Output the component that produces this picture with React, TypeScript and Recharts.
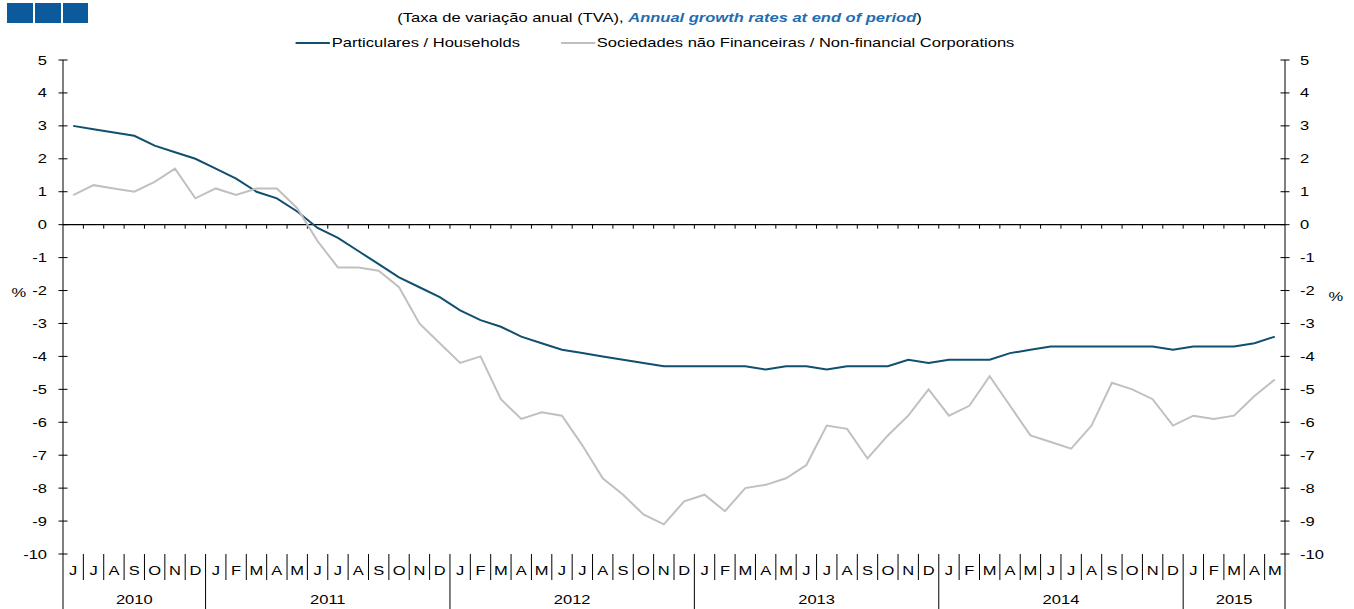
import React from "react";
import { ComposedChart, Line, XAxis, YAxis, ReferenceLine } from "recharts";

// Jun 2010 .. May 2015
const monthLetters = [
  "J", "J", "A", "S", "O", "N", "D",
  "J", "F", "M", "A", "M", "J", "J", "A", "S", "O", "N", "D",
  "J", "F", "M", "A", "M", "J", "J", "A", "S", "O", "N", "D",
  "J", "F", "M", "A", "M", "J", "J", "A", "S", "O", "N", "D",
  "J", "F", "M", "A", "M", "J", "J", "A", "S", "O", "N", "D",
  "J", "F", "M", "A", "M",
];
const yearCounts: [string, number][] = [
  ["2010", 7], ["2011", 12], ["2012", 12], ["2013", 12], ["2014", 12], ["2015", 5],
];
const households = [
  3.0, 2.9, 2.8, 2.7, 2.4, 2.2, 2.0,
  1.7, 1.4, 1.0, 0.8, 0.4, -0.1, -0.4, -0.8, -1.2, -1.6, -1.9, -2.2,
  -2.6, -2.9, -3.1, -3.4, -3.6, -3.8, -3.9, -4.0, -4.1, -4.2, -4.3, -4.3,
  -4.3, -4.3, -4.3, -4.4, -4.3, -4.3, -4.4, -4.3, -4.3, -4.3, -4.1, -4.2,
  -4.1, -4.1, -4.1, -3.9, -3.8, -3.7, -3.7, -3.7, -3.7, -3.7, -3.7, -3.8,
  -3.7, -3.7, -3.7, -3.6, -3.4,
];
const corporations = [
  0.9, 1.2, 1.1, 1.0, 1.3, 1.7, 0.8,
  1.1, 0.9, 1.1, 1.1, 0.5, -0.5, -1.3, -1.3, -1.4, -1.9, -3.0, -3.6,
  -4.2, -4.0, -5.3, -5.9, -5.7, -5.8, -6.7, -7.7, -8.2, -8.8, -9.1, -8.4,
  -8.2, -8.7, -8.0, -7.9, -7.7, -7.3, -6.1, -6.2, -7.1, -6.4, -5.8, -5.0,
  -5.8, -5.5, -4.6, -5.5, -6.4, -6.6, -6.8, -6.1, -4.8, -5.0, -5.3, -6.1,
  -5.8, -5.9, -5.8, -5.2, -4.7,
];
const yTicks = [-10, -9, -8, -7, -6, -5, -4, -3, -2, -1, 0, 1, 2, 3, 4, 5];

const years: string[] = yearCounts.flatMap(([y, n]) => Array(n).fill(y));
const data = monthLetters.map((m, i) => ({
  key: `${years[i]}-${i}`,
  month: m,
  year: years[i],
  households: households[i],
  corporations: corporations[i],
}));
const keys = data.map((d) => d.key);

const W = 1354;
const H = 609;
const PLOT_LEFT = 63;
const PLOT_RIGHT = 1285;
const PLOT_TOP = 60;
const PLOT_BOTTOM = 554;
const BW = (PLOT_RIGHT - PLOT_LEFT) / data.length;
const FONT = '"Liberation Sans", Arial, sans-serif';
const SX = 1.27; // the original text is stretched sideways

const series = [
  { key: "households", name: "Particulares / Households", color: "#114f70" },
  { key: "corporations", name: "Sociedades não Financeiras / Non-financial Corporations", color: "#c0c0c0" },
];

const SText = ({ x, y, anchor, children }: any) => (
  <g transform={`translate(${x},${y}) scale(${SX},1)`}>
    <text x={0} y={0} textAnchor={anchor} fontSize={13} fontFamily={FONT} fill="#000">
      {children}
    </text>
  </g>
);

const LeftTick = (props: any) => {
  const { x, y, payload } = props;
  return (
    <g>
      <line x1={x - 4.5} x2={x + 4.5} y1={y} y2={y} stroke="#000" />
      <SText x={x - 16} y={y + 4.5} anchor="end">{payload.value}</SText>
    </g>
  );
};

const RightTick = (props: any) => {
  const { x, y, payload } = props;
  return (
    <g>
      <line x1={x - 4.5} x2={x + 4.5} y1={y} y2={y} stroke="#000" />
      <SText x={x + 15} y={y + 4.5} anchor="start">{payload.value}</SText>
    </g>
  );
};

const MonthTick = (props: any) => {
  const { x, y, payload } = props;
  const i = keys.indexOf(payload.value);
  if (i < 0) return null;
  const left = x - BW / 2;
  const yearStart = i === 0 || years[i] !== years[i - 1];
  const last = i === data.length - 1;
  let yearLabel = null;
  if (yearStart) {
    const n = years.filter((yy) => yy === years[i]).length;
    yearLabel = (
      <SText x={left + (n * BW) / 2} y={y + 50} anchor="middle">{years[i]}</SText>
    );
  }
  return (
    <g>
      <line x1={left} x2={left} y1={y} y2={y + (yearStart ? 55 : 26)} stroke="#000" />
      {last && <line x1={left + BW} x2={left + BW} y1={y} y2={y + 55} stroke="#000" />}
      <SText x={x} y={y + 21} anchor="middle">{monthLetters[i]}</SText>
      {yearLabel}
    </g>
  );
};

const ZeroLine = (props: any) => {
  const { x1, x2, y1 } = props;
  const step = (x2 - x1) / data.length;
  const ticks = [];
  for (let k = 1; k < data.length; k++) {
    const tx = x1 + k * step;
    ticks.push(<line key={k} x1={tx} x2={tx} y1={y1} y2={y1 + 4} stroke="#000" />);
  }
  return (
    <g>
      <line x1={x1} x2={x2} y1={y1} y2={y1} stroke="#000" strokeWidth={1.2} />
      {ticks}
    </g>
  );
};

const stretched: React.CSSProperties = {
  transform: `scaleX(${SX})`,
  transformOrigin: "center",
};

export default function App() {
  return (
    <div style={{ position: "absolute", left: 0, top: 0, width: W, height: H, background: "#fff", fontFamily: FONT }}>
      <div style={{ position: "absolute", left: 7, top: 3, width: 26, height: 20, background: "#0c5a9c" }} />
      <div style={{ position: "absolute", left: 35, top: 3, width: 26, height: 20, background: "#0c5a9c" }} />
      <div style={{ position: "absolute", left: 63, top: 3, width: 25, height: 20, background: "#0c5a9c" }} />
      <div
        style={{
          position: "absolute", left: 0, top: 10, width: 1319, textAlign: "center",
          fontSize: 13, color: "#000", whiteSpace: "nowrap", ...stretched,
        }}
      >
        (Taxa de variação anual (TVA),{" "}
        <span style={{ color: "#1f6db2", fontWeight: "bold", fontStyle: "italic" }}>
          Annual growth rates at end of period
        </span>
        )
      </div>
      <div
        style={{
          position: "absolute", left: 0, top: 35, width: 1310, display: "flex",
          justifyContent: "center", gap: 32, fontSize: 13, color: "#000", whiteSpace: "nowrap",
          ...stretched,
        }}
      >
        {series.map((s) => (
          <div key={s.key} style={{ display: "flex", alignItems: "center" }}>
            <div style={{ width: 27, height: 2, background: s.color, marginRight: 1.5 }} />
            <span>{s.name}</span>
          </div>
        ))}
      </div>
      <div style={{ position: "absolute", left: 13, top: 285, fontSize: 13, ...stretched }}>%</div>
      <div style={{ position: "absolute", left: 1330, top: 289, fontSize: 13, ...stretched }}>%</div>
      <div style={{ position: "absolute", left: 0, top: 0 }}>
        <ComposedChart
          width={W}
          height={H}
          data={data}
          margin={{ top: PLOT_TOP, right: 8, left: 8, bottom: 0 }}
        >
          <XAxis
            dataKey="key"
            scale="band"
            interval={0}
            height={H - PLOT_BOTTOM}
            axisLine={false}
            tickLine={false}
            tickSize={0}
            tickMargin={0}
            tick={<MonthTick />}
          />
          <YAxis
            yAxisId="left"
            orientation="left"
            width={PLOT_LEFT - 8}
            domain={[-10, 5]}
            ticks={yTicks}
            interval={0}
            axisLine={{ stroke: "#000" }}
            tickLine={false}
            tickSize={0}
            tickMargin={0}
            tick={<LeftTick />}
          />
          <YAxis
            yAxisId="right"
            orientation="right"
            width={W - PLOT_RIGHT - 8}
            domain={[-10, 5]}
            ticks={yTicks}
            interval={0}
            axisLine={{ stroke: "#000" }}
            tickLine={false}
            tickSize={0}
            tickMargin={0}
            tick={<RightTick />}
          />
          <ReferenceLine yAxisId="left" y={0} shape={<ZeroLine />} />
          {series.map((s) => (
            <Line
              key={s.key}
              yAxisId="left"
              dataKey={s.key}
              name={s.name}
              stroke={s.color}
              strokeWidth={2}
              dot={false}
              type="linear"
              isAnimationActive={false}
            />
          ))}
          {/* same series on the right scale, invisible, so that axis gets its ticks */}
          <Line
            yAxisId="right"
            dataKey="households"
            stroke="none"
            strokeWidth={0}
            dot={false}
            activeDot={false}
            legendType="none"
            isAnimationActive={false}
          />
        </ComposedChart>
      </div>
    </div>
  );
}
